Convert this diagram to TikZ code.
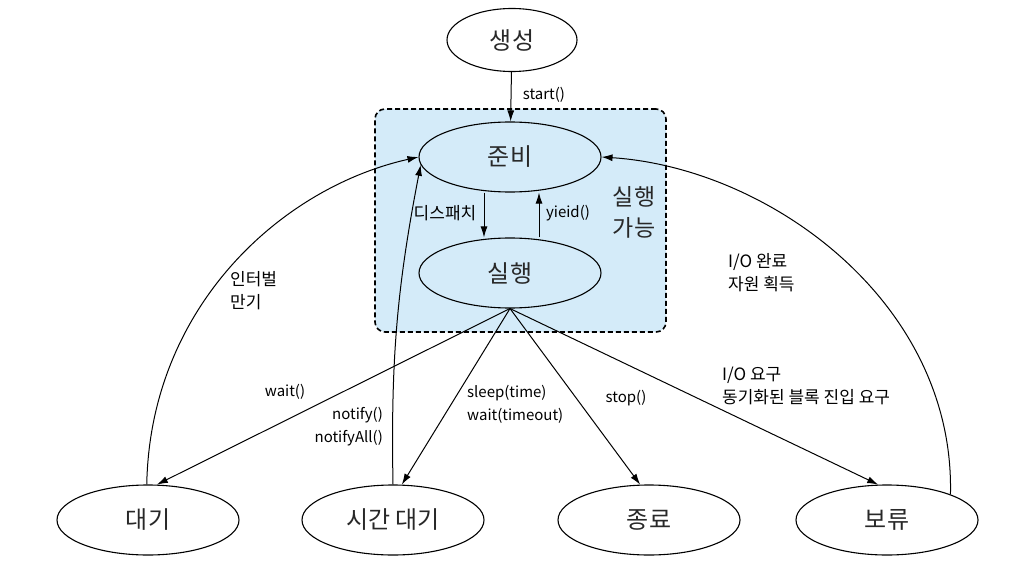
\documentclass[tikz,border=0pt]{standalone}
\usepackage{fontspec}
\setmainfont{Noto Sans CJK KR}
\definecolor{skyfill}{RGB}{212,235,249}
\definecolor{inkgray}{RGB}{40,40,40}
\usetikzlibrary{positioning, arrows.meta, shapes.geometric}

\begin{document}
\begin{tikzpicture}[
    x=1pt, y=1pt,
    state/.style={ellipse, draw, line width=1.1pt, minimum width=182pt,
      minimum height=70pt, inner sep=0pt, text=inkgray, font=\fontsize{24}{28}\selectfont},
    trans/.style={-{Latex[length=11pt,width=7pt]}, line width=1pt},
    lbl/.style={font=\fontsize{15}{23}\selectfont, inner sep=1pt},
    klbl/.style={lbl, font=\fontsize{17}{23}\selectfont},
  ]
    \useasboundingbox (0,0) rectangle (1024,563);
    \node[draw, line width=1.6pt, dash pattern=on 5pt off 3pt, fill=skyfill,
      rounded corners=10pt, minimum width=291pt, minimum height=223pt] (runnable) at (520.5,342.5) {};

    \node[state, minimum width=130pt, minimum height=63pt] (new) at (512,523) {생성};
    \node[state] (ready) at (510,406) {준비};
    \node[state] (run) at (510,290) {실행};
    \node[state] (wait) at (148,43) {대기};
    \node[state] (timed) at (393,43) {시간 대기};
    \node[state] (done) at (649,43) {종료};
    \node[state] (blocked) at (887,43) {보류};
    \node[font=\fontsize{23}{31}\selectfont, text=inkgray, align=center] (runlbl) at (634,351) {실행\\가능};

    \draw[trans] (new) -- (ready);
    \draw[trans] ([xshift=-26pt]ready.south) -- ([xshift=-26pt]run.north);
    \draw[trans] ([xshift=29pt]run.north) -- ([xshift=29pt]ready.south);
    \draw[trans] (run.south) -- (wait.76);
    \draw[trans] (run.south) -- (timed.76);
    \draw[trans] (run.south) -- (done.104);
    \draw[trans] (run.south) -- (blocked.104);
    \draw[trans] (wait.92) .. controls (150,255) and (280,375) .. (ready.west);
    \draw[trans] (timed.90) to[bend left=6] (ready.185);
    \draw[trans] (blocked.22) .. controls (955,260) and (770,395) .. (ready.east);

    \node[lbl] (lstart) at (544,468) {start()};
    \node[klbl] (ldisp) at (445,350) {디스패치};
    \node[lbl] (lyield) at (568,350) {yieid()};
    \node[klbl, align=left, anchor=west] (linterval) at (229,272) {인터벌\\만기};
    \node[lbl] (lwait) at (285,171) {wait()};
    \node[lbl, align=right, anchor=east] (lnotify) at (384,136) {notify()\\notifyAll()};
    \node[lbl, align=left, anchor=west] (lsleep) at (466,159) {sleep(time)\\wait(timeout)};
    \node[lbl] (lstop) at (626,165) {stop()};
    \node[klbl, align=left, anchor=west] (lioreq) at (721,177) {I/O 요구\\동기화된 블록 진입 요구};
    \node[klbl, align=left, anchor=west] (liodone) at (727,290) {I/O 완료\\자원 획득};
  \end{tikzpicture}
\end{document}
